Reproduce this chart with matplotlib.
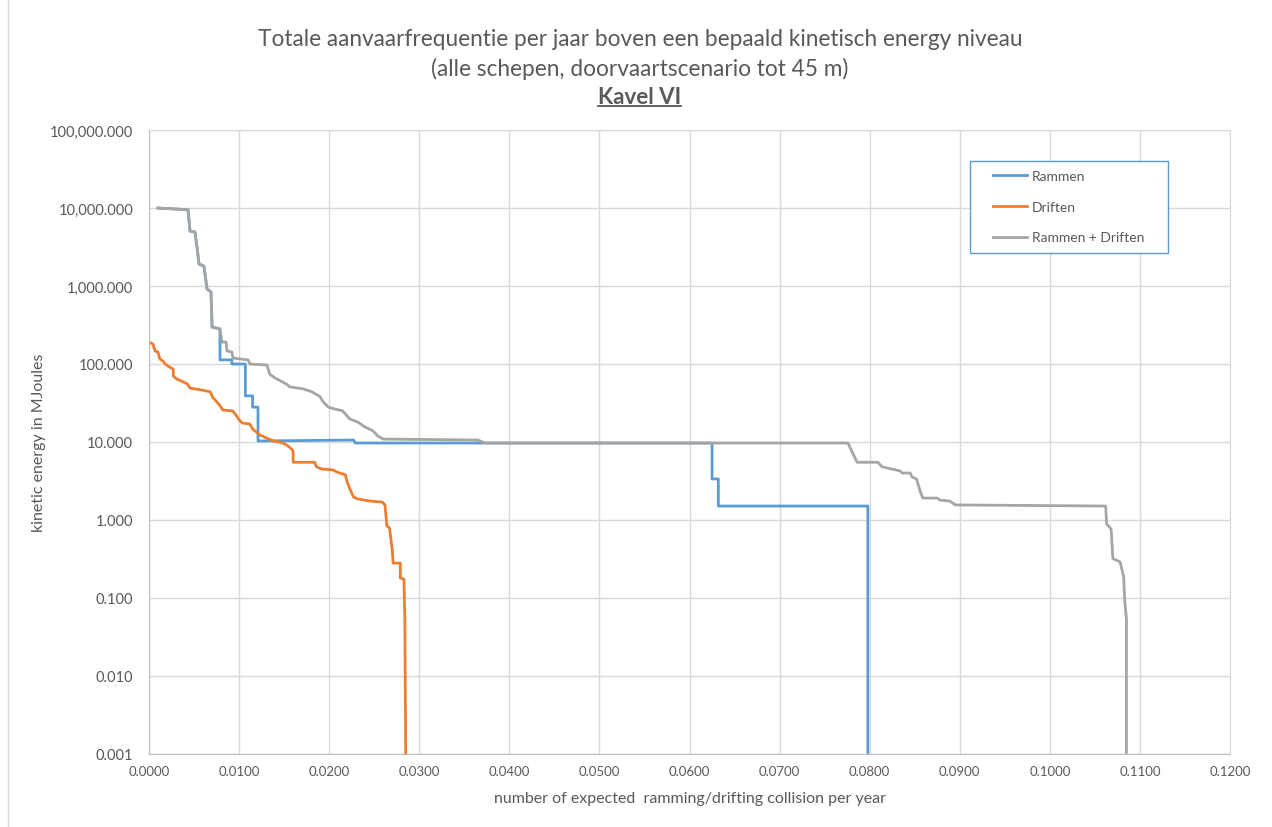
import matplotlib
matplotlib.use("Agg")
import matplotlib.pyplot as plt
from matplotlib.ticker import FuncFormatter, FixedLocator, NullLocator
from matplotlib.lines import Line2D
from matplotlib.patches import Rectangle

plt.rcParams['font.family'] = ['Lato', 'DejaVu Sans']

# Rammen (ramming)
ram_x = [0.0010, 0.00433, 0.00455, 0.0051, 0.00533, 0.00555, 0.0061, 0.00644, 0.00688,
         0.0070, 0.00788, 0.00788, 0.0092, 0.0092, 0.0107, 0.0107, 0.0115, 0.0115, 0.0121,
         0.0121, 0.0227, 0.0229, 0.0625, 0.0625, 0.0632, 0.0632, 0.0798, 0.0798]
ram_y = [10000, 9500, 5070, 4920, 3160, 1915, 1800, 915, 838,
         298, 281, 113, 113, 100, 100, 39, 39, 28, 28,
         10.3, 10.6, 9.7, 9.7, 3.36, 3.36, 1.51, 1.51, 0.001]

# Driften (drifting)
drift_x = [0.0, 0.00044, 0.00067, 0.0010, 0.0012, 0.00155, 0.0018, 0.0021, 0.0027, 0.0027,
           0.0031, 0.0038, 0.0043, 0.00455, 0.0051, 0.0060, 0.0068, 0.0071, 0.0075, 0.0079,
           0.0082, 0.0093, 0.0098, 0.0101, 0.0104, 0.0112, 0.0115, 0.0123, 0.0131, 0.0138,
           0.0145, 0.0151, 0.0156, 0.0160, 0.0160, 0.0184, 0.0186, 0.0192, 0.0204, 0.0209,
           0.0218, 0.0220, 0.0223, 0.0227, 0.0232, 0.0245, 0.0259, 0.0262, 0.0264, 0.0267,
           0.0270, 0.0271, 0.0279, 0.0279, 0.0283, 0.0284, 0.0285]
drift_y = [191, 180, 147, 142, 116, 109, 100, 94, 86, 70,
           64, 59, 55, 49, 48, 46, 44, 37, 33, 29,
           25.7, 25, 21, 18.6, 17.5, 17, 14.7, 12.3, 11.2, 10.3,
           10, 9.4, 8.6, 7.7, 5.5, 5.5, 4.8, 4.5, 4.4, 4.1,
           3.8, 3.07, 2.5, 1.97, 1.86, 1.75, 1.70, 1.56, 0.84, 0.79,
           0.42, 0.28, 0.28, 0.18, 0.175, 0.054, 0.001]

# Rammen + Driften
tot_x = [0.0010, 0.00433, 0.00455, 0.0051, 0.00533, 0.00555, 0.0061, 0.00644, 0.00688,
         0.0070, 0.00788, 0.0081, 0.00855, 0.00866, 0.00921, 0.00932, 0.0110, 0.0112,
         0.0131, 0.0134, 0.0140, 0.0153, 0.0156, 0.0171, 0.0181, 0.0190, 0.0193, 0.0199,
         0.0206, 0.0215, 0.0220, 0.0223, 0.0232, 0.0238, 0.0249, 0.0254, 0.0260, 0.0365,
         0.0373, 0.0776, 0.0780, 0.0786, 0.0809, 0.0814, 0.0834, 0.0836, 0.0845, 0.0847,
         0.0852, 0.0856, 0.0859, 0.0875, 0.0878, 0.0889, 0.0895, 0.1062, 0.1063, 0.1068,
         0.1070, 0.1078, 0.1082, 0.1083, 0.1085, 0.1085]
tot_y = [10000, 9500, 5070, 4920, 3160, 1915, 1800, 915, 838,
         298, 281, 191, 191, 147, 142, 119, 113, 100,
         97, 74, 66, 55, 51, 48, 44, 38, 33, 28,
         26.5, 25, 21.5, 19.7, 18, 16, 13.8, 11.9, 10.9, 10.6,
         9.7, 9.7, 7.7, 5.5, 5.5, 4.8, 4.25, 4.0, 4.0, 3.56,
         3.36, 2.35, 1.91, 1.91, 1.80, 1.75, 1.56, 1.51, 0.89, 0.77,
         0.32, 0.29, 0.186, 0.097, 0.054, 0.001]

x_ticks = [0.00, 0.01, 0.02, 0.03, 0.04, 0.05, 0.06, 0.07, 0.08, 0.09, 0.10, 0.11, 0.12]
y_ticks = [0.001, 0.01, 0.1, 1, 10, 100, 1000, 10000, 100000]

txt_col = '#595959'
grid_col = '#D9D9D9'

fig = plt.figure(figsize=(12.72, 8.28), dpi=100)
ax = fig.add_axes([149 / 1272, 1 - 755 / 828, 1081 / 1272, 624 / 828])

ax.plot(ram_x, ram_y, color='#5B9BD5', lw=2, label='Rammen')
ax.plot(drift_x, drift_y, color='#ED7D31', lw=2, label='Driften')
ax.plot(tot_x, tot_y, color='#A5A5A5', lw=2, label='Rammen + Driften')

ax.set_yscale('log')
ax.set_xlim(0, 0.12)
ax.set_ylim(0.001, 100000)
ax.xaxis.set_major_locator(FixedLocator(x_ticks))
ax.yaxis.set_major_locator(FixedLocator(y_ticks))
ax.yaxis.set_minor_locator(NullLocator())
ax.xaxis.set_major_formatter(FuncFormatter(lambda v, p: f'{v:.4f}'))
ax.yaxis.set_major_formatter(FuncFormatter(lambda v, p: f'{v:,.3f}'))
ax.tick_params(axis='both', length=0, colors=txt_col)
ax.tick_params(axis='x', pad=8, labelsize=9.5)
ax.tick_params(axis='y', pad=11.5, labelsize=10.5)
ax.grid(True, color=grid_col, lw=1)
ax.set_axisbelow(True)
for s in ax.spines.values():
    s.set_color(grid_col)
ax.spines['left'].set_color('#BFBFBF')
ax.spines['bottom'].set_color('#BFBFBF')

ax.set_xlabel('number of expected  ramming/drifting collision per year', color=txt_col,
              fontsize=11.5, labelpad=10)
ax.set_ylabel('kinetic energy in MJoules', color=txt_col, fontsize=11.5)
ax.yaxis.set_label_coords((46 - 149) / 1081, 0.5)

# legend: box drawn separately, entries placed inside
ax.add_patch(Rectangle((0.7595, 0.8029), 0.1832, 0.1474, transform=ax.transAxes,
                       facecolor='white', edgecolor='#5B9BD5', lw=1, zorder=4))
leg = ax.legend(loc='upper left', bbox_to_anchor=(0.7808, 0.936), frameon=False,
                fontsize=10, handlelength=2.45, labelspacing=1.35, borderpad=0,
                borderaxespad=0, handletextpad=0.35)
leg.set_zorder(5)
for t in leg.get_texts():
    t.set_color(txt_col)

fig.text(0.503, 1 - 40 / 828, 'Totale aanvaarfrequentie per jaar boven een bepaald kinetisch energy niveau',
         ha='center', va='center', fontsize=16.3, color=txt_col)
fig.text(0.503, 1 - 69 / 828, '(alle schepen, doorvaartscenario tot 45 m)',
         ha='center', va='center', fontsize=16.3, color=txt_col)
kavel = fig.text(0.503, 1 - 97 / 828, 'Kavel VI', ha='center', va='center',
                 fontsize=16, color=txt_col, fontweight='bold')

# underline for "Kavel VI"
fig.canvas.draw()
bb = kavel.get_window_extent().transformed(fig.transFigure.inverted())
fig.add_artist(Line2D([bb.x0, bb.x1], [bb.y0 + 0.001, bb.y0 + 0.001], transform=fig.transFigure,
                      color=txt_col, lw=1.3))

# outer chart border
fig.add_artist(Line2D([8 / 1272, 8 / 1272], [0, 1], transform=fig.transFigure,
                      color=grid_col, lw=1))

fig.savefig('out.png', dpi=100)
